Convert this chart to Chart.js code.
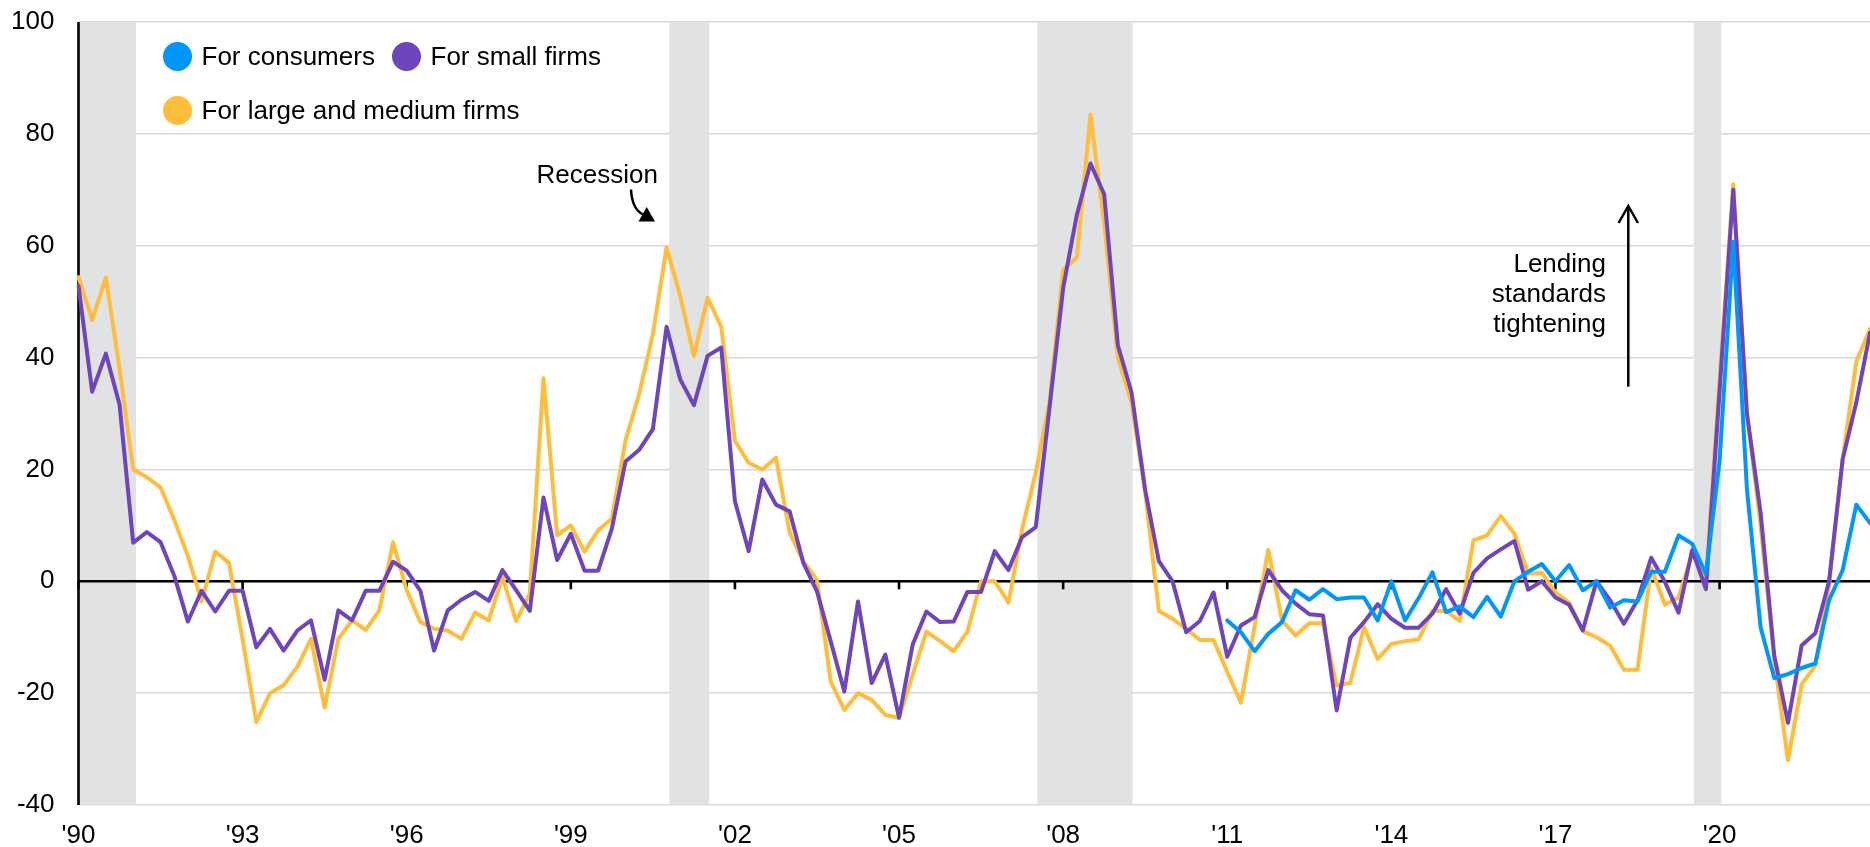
<!DOCTYPE html>
<html>
<head>
<meta charset="utf-8">
<script src="https://cdn.jsdelivr.net/npm/chart.js@4.4.1/dist/chart.umd.min.js"></script>
<style>
  html, body { margin: 0; padding: 0; background: #fff; }
  #wrap { position: relative; width: 1870px; height: 847px; overflow: hidden;
          font-family: "Liberation Sans", Arial, Helvetica, sans-serif; color: #000; }
  #c { position: absolute; left: 0; top: 0; }
  .t { position: absolute; font-size: 26px; line-height: 30px; white-space: nowrap; }
  .dot { position: absolute; width: 29px; height: 29px; border-radius: 50%; }
</style>
</head>
<body>
<div id="wrap">
  <canvas id="c" width="1870" height="847"></canvas>
  <div id="legend"></div>
  <div class="t" style="right:1212px; top:159px; text-align:right;">Recession</div>
  <div class="t" style="right:264px; top:248px; text-align:right;">Lending<br>standards<br>tightening</div>
</div>
<script>
// ---- Data (quarterly, 1990 Q1 .. 2022 Q4 as laid out on the axis) ----
const firstYear = 1990, lastYear = 2022;
const quarters = [];
for (let yr = firstYear; yr <= lastYear; yr++) for (let q = 1; q <= 4; q++) quarters.push(yr + ' Q' + q);

const tickLabels = ["'90", "'93", "'96", "'99", "'02", "'05", "'08", "'11", "'14", "'17", "'20"];

const largeMedium = [
  54.4, 46.7, 54.3, 38, 20.0, 18.6, 16.8, 11, 4.5, -3.6, 5.3, 3.3,
  -10.4, -25.2, -20.0, -18.6, -15.3, -10.3, -22.6, -10.3, -7.0, -8.7, -5.2, 7.0,
  -1.6, -7.3, -8.5, -8.8, -10.3, -5.6, -7.0, 0.8, -7.1, -2.2, 36.3, 8.2,
  10.0, 5.3, 9.1, 11.2, 25.2, 33.5, 44.2, 59.7, 51.0, 40.3, 50.7, 45.5,
  25.1, 21.2, 20.0, 22.1, 8.7, 3.6, 0.3, -17.9, -23.0, -20.0, -21.2, -23.9,
  -24.4, -16.7, -9.0, -10.7, -12.5, -9.0, 0, 0, -3.8, 9.3, 19.5, 32,
  55.7, 57.9, 83.4, 64, 40.0, 32.0, 15.9, -5.3, -6.7, -8.5, -10.5, -10.5,
  -16.2, -21.7, -8, 5.6, -7.0, -9.7, -7.5, -7.5, -18.6, -18.2, -8.2, -13.9,
  -11.2, -10.7, -10.4, -5.3, -5.3, -7.1, 7.3, 8.2, 11.7, 8.5, 1.4, 1.5,
  -2.0, -3.8, -8.9, -10.0, -11.5, -15.8, -15.8, 2.4, -4.2, -2.9, 5.0, -0.1,
  36, 71.0, 30, 10, -14.0, -32, -18.4, -15.1, -0.9, 21.8, 39.3, 45.1
];

const smallFirms = [
  52.8, 33.9, 40.7, 31.6, 6.9, 8.8, 7.0, 1, -7.2, -1.7, -5.4, -1.7,
  -1.7, -11.8, -8.5, -12.4, -8.8, -7.0, -17.6, -5.2, -7.0, -1.7, -1.7, 3.5,
  1.9, -1.7, -12.4, -5.2, -3.3, -1.9, -3.5, 2.0, -1.6, -5.3, 15.0, 3.8,
  8.5, 1.9, 1.9, 9.4, 21.4, 23.5, 27.2, 45.5, 36.1, 31.5, 40.3, 41.8,
  14.3, 5.4, 18.2, 13.7, 12.5, 3.3, -1.8, -10.7, -19.7, -3.6, -18.2, -13.1,
  -24.4, -11.3, -5.4, -7.3, -7.2, -1.9, -1.9, 5.4, 2.0, 7.9, 9.7, 31,
  52.4, 65.5, 74.7, 69.2, 42.2, 33.8, 16.3, 3.6, 0, -9.1, -7.1, -2.0,
  -13.5, -7.9, -6.4, 2.0, -1.6, -4.0, -5.9, -6.1, -23.1, -10.1, -7.3, -4.1,
  -6.7, -8.3, -8.3, -5.8, -1.4, -5.8, 1.5, 4.1, 5.7, 7.2, -1.5, 0,
  -2.9, -4.2, -8.8, 0, -3.4, -7.6, -3.4, 4.2, -0.1, -5.6, 5.6, -1.4,
  34, 70.0, 30, 12.3, -13.3, -25.3, -11.5, -9.3, -0.1, 21.8, 32.0, 44.4
];

// consumer series begins in 2011 (quarter index 84)
const consumersStartIndex = 84;
const consumersValues = [
  -7, -9.1, -12.5, -9.4, -7.3, -1.6, -3.3, -1.4, -3.2, -2.9, -2.9, -7.0,
  0, -7.0, -3, 1.6, -5.5, -4.5, -6.4, -2.8, -6.3, 0, 1.7, 3.1,
  0, 2.9, -1.6, 0, -4.7, -3.4, -3.6, 1.7, 1.7, 8.2, 6.7, 1.3,
  21.5, 60.7, 16.5, -8.2, -17.3, -16.6, -15.5, -14.7, -3.4, 2.0, 13.7, 10.4
];
const consumers = Array(consumersStartIndex).fill(null).concat(consumersValues);

// recessions, in axis years
const recessionStart = [1990.0, 2000.8, 2007.53, 2019.53];
const recessionEnd   = [1991.05, 2001.53, 2009.27, 2020.03];

// ---- Styling ----
const C_BLUE = '#0096FA', C_PURPLE = '#6E45BD', C_YELLOW = '#FFBD3B';
const BAND = '#e1e2e4', GRID = '#d7d7d7';
const FONT = '"Liberation Sans", Arial, Helvetica, sans-serif';

const yearToIndex = y => (y - firstYear) * 4;

const deco = {
  id: 'deco',
  beforeDatasetsDraw(chart) {
    const { ctx, chartArea: a, scales: { x, y } } = chart;
    ctx.save();
    ctx.fillStyle = BAND;
    recessionStart.forEach((s, k) => {
      const x0 = x.getPixelForValue(yearToIndex(s));
      const x1 = x.getPixelForValue(yearToIndex(recessionEnd[k]));
      ctx.fillRect(x0, a.top, x1 - x0, a.bottom - a.top);
    });
    const y0 = y.getPixelForValue(0);
    ctx.strokeStyle = '#000';
    ctx.lineWidth = 2.6;
    ctx.beginPath(); ctx.moveTo(a.left, y0); ctx.lineTo(a.right, y0); ctx.stroke();
    tickLabels.forEach((_, k) => {
      const px = x.getPixelForValue(k * 12);
      ctx.beginPath(); ctx.moveTo(px, y0); ctx.lineTo(px, y0 + 8); ctx.stroke();
    });
    ctx.beginPath(); ctx.moveTo(a.left, a.top); ctx.lineTo(a.left, a.bottom); ctx.stroke();
    ctx.restore();
  },
  afterDatasetsDraw(chart) {
    const { ctx } = chart;
    ctx.save();
    ctx.strokeStyle = '#000';
    ctx.fillStyle = '#000';
    ctx.lineWidth = 2.5;
    // tightening arrow
    ctx.beginPath(); ctx.moveTo(1628.3, 386.7); ctx.lineTo(1628.3, 207); ctx.stroke();
    ctx.beginPath(); ctx.moveTo(1618.6, 223); ctx.lineTo(1628.3, 206); ctx.lineTo(1638, 223); ctx.stroke();
    // recession curved arrow
    ctx.beginPath(); ctx.moveTo(631, 189.5); ctx.quadraticCurveTo(632, 209, 643, 214.5); ctx.stroke();
    ctx.beginPath(); ctx.moveTo(655, 221.5); ctx.lineTo(638.5, 221.5); ctx.lineTo(646.7, 207); ctx.closePath(); ctx.fill();
    ctx.restore();
  }
};

const chart = new Chart(document.getElementById('c'), {
  type: 'line',
  data: {
    labels: quarters,
    datasets: [
      { label: 'For consumers', data: consumers, borderColor: C_BLUE, backgroundColor: C_BLUE, order: 0 },
      { label: 'For small firms', data: smallFirms, borderColor: C_PURPLE, backgroundColor: C_PURPLE, order: 1 },
      { label: 'For large and medium firms', data: largeMedium, borderColor: C_YELLOW, backgroundColor: C_YELLOW, order: 2 }
    ]
  },
  options: {
    responsive: false,
    devicePixelRatio: 1,
    animation: false,
    events: [],
    layout: { padding: { top: 22, left: 0, right: 0, bottom: 0 } },
    elements: {
      line: { borderWidth: 4, tension: 0, borderJoinStyle: 'round', borderCapStyle: 'round', fill: false },
      point: { radius: 0, hoverRadius: 0 }
    },
    plugins: { legend: { display: false }, tooltip: { enabled: false } },
    scales: {
      x: {
        type: 'category',
        offset: false,
        grid: { display: false, drawTicks: false },
        border: { display: false },
        afterFit(s) { s.height = 42; },
        ticks: {
          autoSkip: false, maxRotation: 0, minRotation: 0, padding: 15,
          color: '#000', font: { family: FONT, size: 26 },
          callback: (v, i) => (i % 12 === 0 ? tickLabels[i / 12] : null)
        }
      },
      y: {
        min: -40, max: 100,
        grid: { color: GRID, lineWidth: 1.5, drawTicks: true, tickLength: 24, tickColor: 'rgba(0,0,0,0)' },
        border: { display: false },
        afterFit(s) { s.width = 78.5; },
        ticks: { stepSize: 20, padding: 0, color: '#000', font: { family: FONT, size: 26 } }
      }
    }
  },
  plugins: [deco]
});

// ---- HTML legend built from the datasets ----
const legendPos = [ { x: 162.5, y: 41.5 }, { x: 391.5, y: 41.5 }, { x: 162.5, y: 95.5 } ];
const lg = document.getElementById('legend');
chart.data.datasets.forEach((ds, k) => {
  const p = legendPos[k];
  const d = document.createElement('div');
  d.className = 'dot';
  d.style.left = p.x + 'px'; d.style.top = p.y + 'px'; d.style.background = ds.borderColor;
  lg.appendChild(d);
  const t = document.createElement('div');
  t.className = 't';
  t.style.left = (p.x + 39) + 'px'; t.style.top = (p.y - 0.5) + 'px';
  t.textContent = ds.label;
  lg.appendChild(t);
});
</script>
</body>
</html>
